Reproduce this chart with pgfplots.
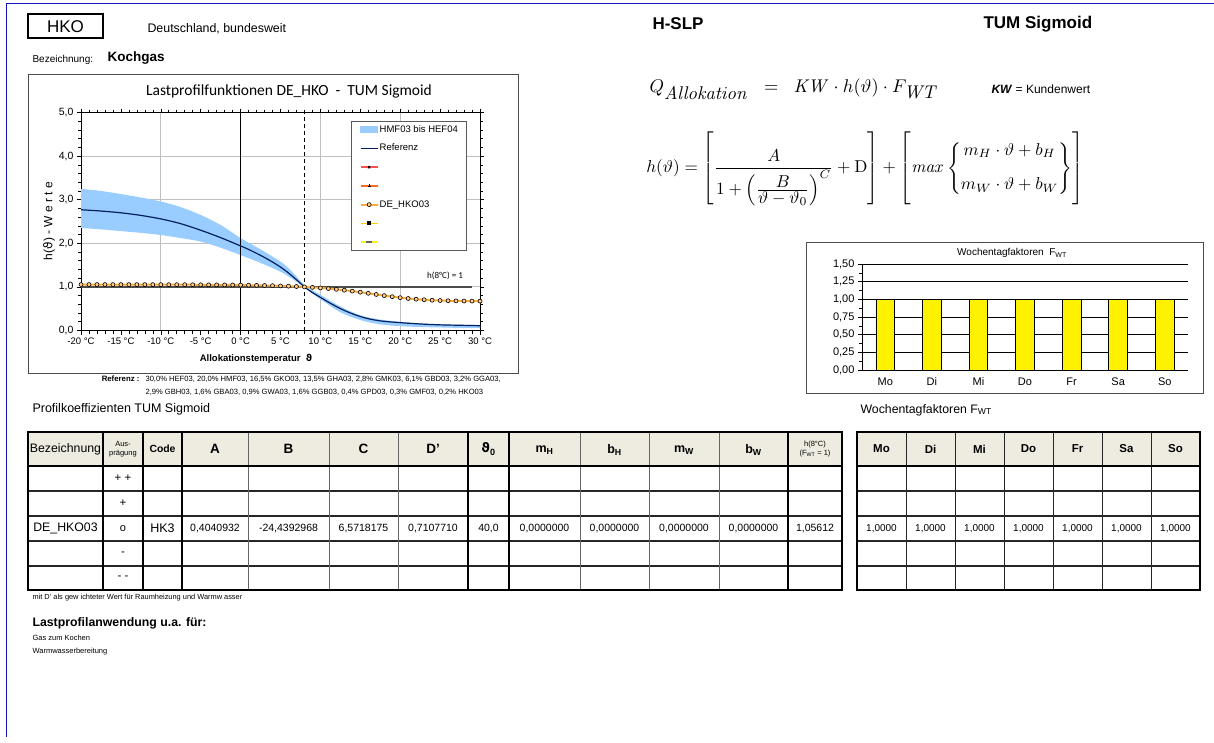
\documentclass[border=0pt]{standalone}
\usepackage{pgfplots}
\pgfplotsset{compat=1.18}
\usepgfplotslibrary{fillbetween}
\usepackage{amsmath}
\usepackage{graphicx}
\usepackage[no-math]{fontspec}
\setmainfont{Liberation Sans}
\newfontfamily\carlito{Carlito}
\newfontfamily\dejavu{DejaVu Sans}
\definecolor{bandblue}{RGB}{153,204,255}
\definecolor{navy}{RGB}{0,32,96}
\definecolor{hkoorange}{RGB}{255,170,50}
\definecolor{hdrfill}{RGB}{238,236,225}
\definecolor{pageblue}{RGB}{20,20,190}
\definecolor{legred}{RGB}{255,80,80}
\definecolor{legorange}{RGB}{255,110,30}
\definecolor{legyellow}{RGB}{255,205,0}
\definecolor{legyellow2}{RGB}{255,240,40}
\newcommand{\fs}[1]{\fontsize{#1}{1.2\dimexpr #1pt\relax}\selectfont}

\pgfplotstableread{
x y
-20 1.0546
-19 1.0545
-18 1.0543
-17 1.0542
-16 1.0540
-15 1.0538
-14 1.0536
-13 1.0533
-12 1.0530
-11 1.0526
-10 1.0522
-9 1.0517
-8 1.0511
-7 1.0505
-6 1.0497
-5 1.0488
-4 1.0478
-3 1.0465
-2 1.0450
-1 1.0433
0 1.0412
1 1.0387
2 1.0357
3 1.0321
4 1.0278
5 1.0226
6 1.0164
7 1.0090
8 1.0000
9 0.9893
10 0.9767
11 0.9618
12 0.9445
13 0.9248
14 0.9027
15 0.8786
16 0.8529
17 0.8267
18 0.8007
19 0.7762
20 0.7538
21 0.7344
22 0.7182
23 0.7053
24 0.6953
25 0.6879
26 0.6826
27 0.6790
28 0.6765
29 0.6750
30 0.6741
}\hkodata

\pgfplotstableread{
x y
-20 2.77
-17.5 2.74
-15 2.70
-12.5 2.64
-10 2.56
-7.5 2.45
-5 2.30
-2.5 2.13
0 1.94
1 1.86
2 1.77
3 1.675
4 1.57
5 1.455
6 1.32
7 1.165
8 1.00
9 0.87
10 0.76
11 0.65
12 0.55
13 0.46
14 0.385
15 0.32
16 0.27
17 0.235
18 0.21
20 0.18
22.5 0.15
25 0.13
27.5 0.12
30 0.11
}\refdata

\pgfplotstableread{
x y
-20 3.25
-17.5 3.20
-15 3.13
-12.5 3.05
-10 2.96
-7.5 2.83
-5 2.65
-2.5 2.42
0 2.12
2.5 1.86
5 1.58
6 1.43
7 1.24
8 1.04
9 0.92
10 0.82
12.5 0.55
15 0.35
17.5 0.25
20 0.20
22.5 0.16
25 0.14
27.5 0.13
30 0.13
}\updata

\pgfplotstableread{
x y
-20 2.35
-17.5 2.32
-15 2.28
-12.5 2.24
-10 2.19
-7.5 2.12
-5 2.04
-2.5 1.90
0 1.73
2.5 1.55
5 1.35
6 1.24
7 1.12
8 0.99
9 0.85
10 0.72
12.5 0.42
15 0.24
17.5 0.14
20 0.10
22.5 0.08
25 0.07
27.5 0.06
30 0.06
}\lodata

\pgfplotstableread{
x y
0 1
1 1
2 1
3 1
4 1
5 1
6 1
}\wtdata

\begin{document}
\begin{tikzpicture}
\begin{scope}[x=1pt,y=-1pt]
% page frame
\draw[pageblue, line width=1pt] (6,737) -- (6,3) -- (1214,3);
% header texts
\draw[black, line width=1.5pt] (28,14) rectangle (103,38);
\node[font=\fs{17}] at (65.5,26.5) {HKO};
\node[anchor=west, font=\fs{12.4}] at (144,29) {Deutschland, bundesweit};
\node[anchor=west, font=\bfseries\fs{17}] at (649,24) {H-SLP};
\node[anchor=west, font=\bfseries\fs{17}] at (980,24) {TUM Sigmoid};
\node[anchor=west, font=\fs{10}] at (29,59.5) {Bezeichnung:};
\node[anchor=west, font=\bfseries\fs{13.5}] at (104,58) {Kochgas};
% main chart frame
\draw[black!70, line width=1pt] (28,74) rectangle (518,373);
\node[font=\carlito\fs{15.5}] at (289,91) {Lastprofilfunktionen\ DE\_HKO\ \ -\ \ TUM Sigmoid};
\node[rotate=90, font=\fs{12}] at (49,221) {h({\dejavu ϑ}) - W e r t e};
\node[font=\bfseries\fs{9.5}] at (256,359) {Allokationstemperatur\ \ {\dejavu\bfseries ϑ}};
\node[font=\carlito\fs{9}] at (445,276) {h(8°C) = 1};
\node[anchor=east, font=\bfseries\fs{7.8}] at (143,379) {Referenz :};
\node[anchor=west, font=\fs{7.6}] at (142,379) {30,0\% HEF03, 20,0\% HMF03, 16,5\% GKO03, 13,5\% GHA03, 2,8\% GMK03, 6,1\% GBD03, 3,2\% GGA03,};
\node[anchor=west, font=\fs{7.6}] at (142,392) {2,9\% GBH03, 1,6\% GBA03, 0,9\% GWA03, 1,6\% GGB03, 0,4\% GPD03, 0,3\% GMF03, 0,2\% HKO03};
% formulas
\node[anchor=west] at (646,89) {\scalebox{1.84}{$Q_{\textstyle\mathit{Allokation}}\;\;=\;\;\mathit{KW}\cdot h(\vartheta)\cdot F_{\textstyle\mathit{WT}}$}};
\node[anchor=west, font=\fs{12}] at (988,89) {\textbf{\textit{KW}} = Kundenwert};
\node at (865,169) {\scalebox{1.72}{$h(\vartheta)=\left[\dfrac{A}{1+\left(\frac{\textstyle B}{\textstyle\vartheta-\vartheta_0}\right)^{C}}+\mathrm{D}\right]+\left[\vphantom{\dfrac{A}{1+\left(\frac{\textstyle B}{\textstyle\vartheta-\vartheta_0}\right)^{C}}}\mathit{max}\left\{\begin{matrix} m_H\cdot\vartheta+b_H\\[8pt] m_W\cdot\vartheta+b_W\end{matrix}\right\}\right]$}};
% bar chart frame
\draw[black!70, line width=1pt] (806,242) rectangle (1203,393);
\node[font=\fs{10}] at (1012,253) {Wochentagfaktoren\ \ F\textsubscript{WT}};
% captions
\node[anchor=west, font=\fs{12.5}] at (29,409) {Profilkoeffizienten TUM Sigmoid};
\node[anchor=west, font=\fs{12.3}] at (857,410) {Wochentagfaktoren F\textsubscript{WT}};
% tables
\fill[hdrfill] (28,432) rectangle (842,466);
\fill[hdrfill] (857,432) rectangle (1200,466);
\foreach \yy in {491,516,541,566}{
  \draw[black!85, line width=1.1pt] (28,\yy) -- (842,\yy);
  \draw[black!85, line width=1.1pt] (857,\yy) -- (1200,\yy);
}
\foreach \xx in {248,329,398,580,649,719}{
  \draw[black!60, line width=0.8pt] (\xx,432) -- (\xx,590);
}
\foreach \xx in {103,143,182,468,509,788}{
  \draw[black, line width=1.5pt] (\xx,432) -- (\xx,590);
}
\foreach \xx in {906,955,1004,1053,1102,1151}{
  \draw[black!85, line width=1pt] (\xx,432) -- (\xx,590);
}
\draw[black, line width=1.6pt] (28,466) -- (842,466);
\draw[black, line width=1.6pt] (857,466) -- (1200,466);
\draw[black, line width=2pt] (28,432) rectangle (842,590);
\draw[black, line width=2pt] (857,432) rectangle (1200,590);
% header text
\node[font=\fs{12.3}] at (65.5,449) {Bezeichnung};
\node[font=\fs{7.5}, align=center] at (123,449) {Aus-\\prägung};
\node[font=\bfseries\fs{10.4}] at (162.5,449) {Code};
\node[font=\bfseries\fs{13.5}] at (215,449) {A};
\node[font=\bfseries\fs{13.5}] at (288.5,449) {B};
\node[font=\bfseries\fs{13.5}] at (363.5,449) {C};
\node[font=\bfseries\fs{13.5}] at (433,449) {D'};
\node[font=\bfseries\fs{13}] at (488.5,449) {{\dejavu\bfseries ϑ}\textsubscript{0}};
\node[font=\bfseries\fs{12.5}] at (544.5,450) {m\textsubscript{H}};
\node[font=\bfseries\fs{12.5}] at (614.5,450) {b\textsubscript{H}};
\node[font=\bfseries\fs{12.5}] at (684,450) {m\textsubscript{W}};
\node[font=\bfseries\fs{12.5}] at (753.5,450) {b\textsubscript{W}};
\node[font=\fs{7.5}, align=center] at (815,449) {h(8°C)\\(F\textsubscript{WT} = 1)};
\node[font=\bfseries\fs{11.5}] at (881.5,449) {Mo};
\node[font=\bfseries\fs{11.5}] at (930.5,449) {Di};
\node[font=\bfseries\fs{11.5}] at (979.5,449) {Mi};
\node[font=\bfseries\fs{11.5}] at (1028.5,449) {Do};
\node[font=\bfseries\fs{11.5}] at (1077.5,449) {Fr};
\node[font=\bfseries\fs{11.5}] at (1126.5,449) {Sa};
\node[font=\bfseries\fs{11.5}] at (1175.5,449) {So};
% rows
\node[font=\fs{11.5}] at (123,478.5) {+ +};
\node[font=\fs{11.5}] at (123,503.5) {+};
\node[font=\fs{11.5}] at (123,553.5) {-};
\node[font=\fs{11.5}] at (123,578) {- -};
\node[font=\fs{12.3}] at (65.5,528.5) {DE\_HKO03};
\node[font=\fs{11}] at (123,529) {o};
\node[font=\fs{12.5}] at (162.5,528.5) {HK3};
\node[font=\fs{10.5}] at (215,528.5) {0,4040932};
\node[font=\fs{10.5}] at (288.5,528.5) {-24,4392968};
\node[font=\fs{10.5}] at (363.5,528.5) {6,5718175};
\node[font=\fs{10.5}] at (433,528.5) {0,7107710};
\node[font=\fs{10.5}] at (488.5,528.5) {40,0};
\node[font=\fs{10.5}] at (544.5,528.5) {0,0000000};
\node[font=\fs{10.5}] at (614.5,528.5) {0,0000000};
\node[font=\fs{10.5}] at (684,528.5) {0,0000000};
\node[font=\fs{10.5}] at (753.5,528.5) {0,0000000};
\node[font=\fs{10.5}] at (815,528.5) {1,05612};
\foreach \xx in {881.5,930.5,979.5,1028.5,1077.5,1126.5,1175.5}{
  \node[font=\fs{10}] at (\xx,528.5) {1,0000};
}
% notes
\node[anchor=west, font=\fs{7.4}] at (29,598) {mit D' als gew ichteter Wert für Raumheizung und Warmw asser};
\node[anchor=west, font=\bfseries\fs{12.3}] at (29,623) {Lastprofilanwendung u.a. für:};
\node[anchor=west, font=\fs{7.5}] at (29,638) {Gas zum Kochen};
\node[anchor=west, font=\fs{7.5}] at (29,652) {Warmwasserbereitung};
\end{scope}

% ---------------- main chart -----------------
\begin{axis}[
  at={(81pt,-330.5pt)}, anchor=south west,
  scale only axis, width=399pt, height=218pt,
  xmin=-20, xmax=30, ymin=0, ymax=5,
  xtick={-20,-15,...,30},
  xticklabels={-20 °C,-15 °C,-10 °C,-5 °C,0 °C,5 °C,10 °C,15 °C,20 °C,25 °C,30 °C},
  minor x tick num=4,
  ytick={0,1,...,5},
  minor y tick num=4,
  /pgf/number format/assume math mode=true,
  yticklabel={\pgfmathprintnumber[fixed,fixed zerofill,precision=1,use comma]{\tick}},
  xticklabel style={font=\fs{9.5}, black},
  yticklabel style={font=\fs{10.5}, black},
  tick align=outside,
  major tick length=4pt, minor tick length=3pt,
  tick style={black, line width=0.6pt},
  axis line style={black, line width=0.9pt},
  ymajorgrids, major grid style={draw=black!25, line width=1pt},
  extra x ticks={-10,10,20}, extra x tick labels={},
  extra x tick style={grid=major, major tick length=0pt},
  legend cell align=left,
  legend style={at={(axis cs:13.85,4.81)}, anchor=north west,
    draw=black!65, line width=1pt, fill=white,
    font=\fs{9.5}, row sep=7.7pt, inner xsep=8pt, inner ysep=3pt,
    nodes={inner sep=1pt, text height=7pt, text depth=2pt},
    column 2/.style={text width=78pt}},
  clip=true,
]
\addplot[name path=up, draw=none, smooth, forget plot] table[x=x,y=y] {\updata};
\addplot[name path=lo, draw=none, smooth, forget plot] table[x=x,y=y] {\lodata};
\addplot[bandblue, forget plot] fill between[of=up and lo];
\draw[black, line width=1pt] (axis cs:0,0) -- (axis cs:0,5);
\draw[black, line width=1pt, dash pattern=on 4pt off 3pt] (axis cs:8,0) -- (axis cs:8,5);
\addplot[black!70, line width=1.6pt, forget plot] coordinates {(-20,1) (29,1)};
\addplot[navy, line width=1.2pt, smooth, forget plot] table[x=x,y=y] {\refdata};
\addplot[hkoorange, line width=2pt, mark=*, mark size=2pt,
  mark options={draw=black, fill=hkoorange!55!white, line width=0.6pt}, forget plot] table[x=x,y=y] {\hkodata};
\addlegendimage{area legend, fill=bandblue, draw=bandblue}
\addlegendentry{HMF03 bis HEF04}
\addlegendimage{navy, line width=1.3pt}
\addlegendentry{Referenz}
\addlegendimage{draw=legred, line width=1.5pt, mark=x, mark options={draw=black, line width=0.8pt, scale=0.8}}
\addlegendentry{}
\addlegendimage{draw=legorange, line width=1.5pt, mark=+, mark options={draw=black, line width=0.7pt, scale=0.7}}
\addlegendentry{}
\addlegendimage{hkoorange, line width=2pt, mark=*, mark size=2pt, mark options={draw=black, fill=hkoorange!55!white, line width=0.6pt}}
\addlegendentry{DE\_HKO03}
\addlegendimage{draw=legyellow, line width=1.5pt, mark=square*, mark size=1.2pt, mark options={draw=black, fill=black}}
\addlegendentry{}
\addlegendimage{draw=legyellow2, line width=1.5pt, mark=-, mark size=3pt, mark options={draw=black!60, line width=2.2pt}}
\addlegendentry{}
\end{axis}

% ---------------- weekday chart -----------------
\begin{axis}[
  at={(862pt,-370pt)}, anchor=south west,
  scale only axis, width=326pt, height=106pt,
  xmin=-0.5, xmax=6.5, ymin=0, ymax=1.5,
  xtick={0,...,6},
  xticklabels={Mo,Di,Mi,Do,Fr,Sa,So},
  x tick style={draw=none},
  ytick={0,0.25,...,1.5},
  minor y tick num=1,
  /pgf/number format/assume math mode=true,
  yticklabel={\pgfmathprintnumber[fixed,fixed zerofill,precision=2,use comma]{\tick}},
  tick label style={font=\fs{11}, black},
  y tick style={black, line width=0.6pt},
  tick align=outside,
  major tick length=4pt, minor tick length=3pt,
  axis x line*=bottom, axis y line*=left,
  axis line style={black, line width=0.9pt},
  ymajorgrids, major grid style={draw=black, line width=0.9pt},
]
\addplot[ybar, bar width=18.7pt, fill=yellow, draw=black, line width=0.8pt] table[x=x,y=y] {\wtdata};
\end{axis}
\pgfresetboundingbox
\useasboundingbox (0pt,0pt) rectangle (1214pt,-742pt);
\end{tikzpicture}
\end{document}
